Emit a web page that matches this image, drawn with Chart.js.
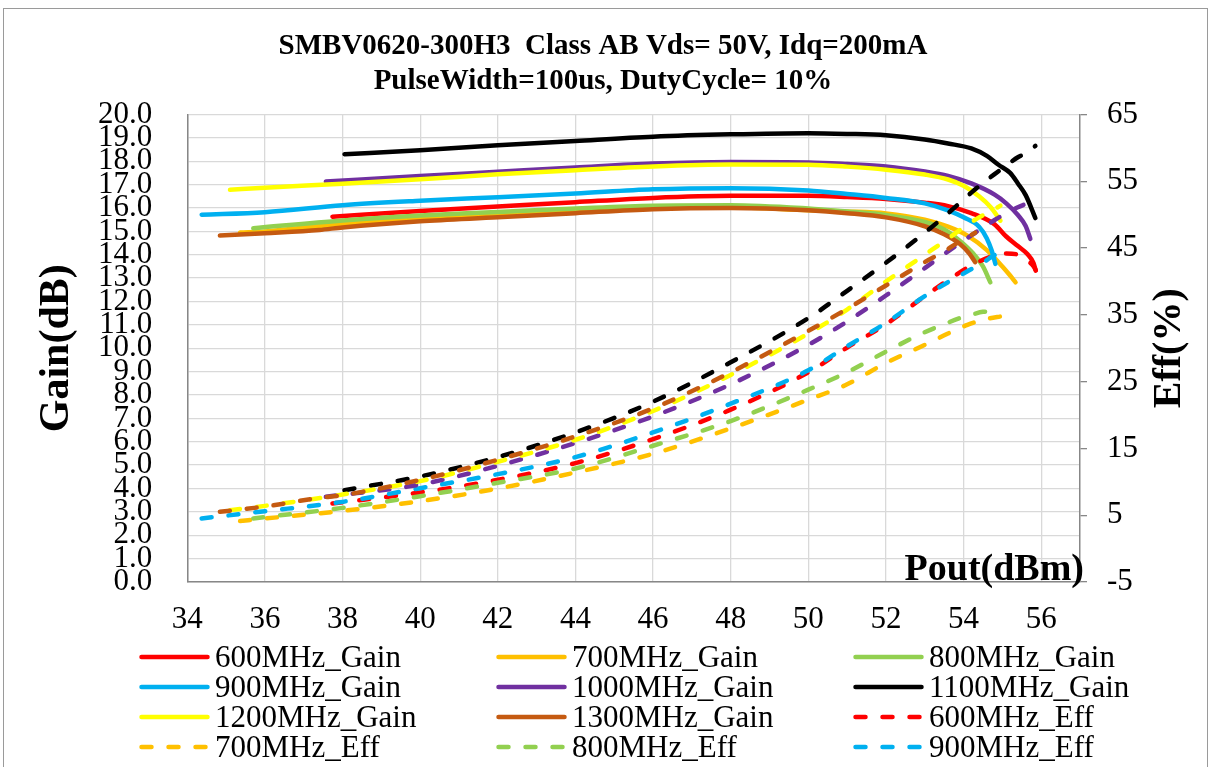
<!DOCTYPE html>
<html>
<head>
<meta charset="utf-8">
<title>SMBV0620-300H3</title>
<script src="https://cdn.jsdelivr.net/npm/chart.js@4.4.1/dist/chart.umd.min.js"></script>
<style>
  html, body { margin: 0; padding: 0; background: #fff; overflow: hidden; }
  body { width: 1210px; height: 767px; position: relative; font-family: "Liberation Serif", "Times New Roman", serif; }
  #frame { position: absolute; left: 3px; top: 8px; width: 1203px; height: 900px; border: 1px solid #9a9a9a; }
  #c1 { position: absolute; left: 0; top: 0; }
  #legend { position: absolute; left: 139px; top: 642px; height: 122px; overflow: hidden; display: grid; grid-template-columns: 357px 357px 357px; align-content: start; }
  .item { height: 30px; font-size: 31px; white-space: nowrap; display: flex; align-items: center; color: #000; }
  .item svg { margin-right: 5px; flex: none; }
</style>
</head>
<body>
<div id="frame"></div>
<canvas id="c1" width="1210" height="660"></canvas>
<div id="legend"></div>
<script>
  // Pout (dBm) per frequency, gain (dB) and drain efficiency (%) at the same points
  var pout600 = [37.74, 40, 42, 44, 46, 48, 50, 51, 52, 53, 53.6, 54.2, 54.8, 55.1, 55.4, 55.65, 55.8, 55.86]
  var gain600 = [15.63, 15.87, 16.06, 16.25, 16.43, 16.52, 16.52, 16.47, 16.39, 16.23, 16.08, 15.78, 15.3, 14.78, 14.37, 14.02, 13.65, 13.32]
  var eff600 = [6.76, 8.4, 10.3, 12.8, 16.4, 20.8, 26.4, 30.1, 33.6, 37.8, 40.2, 42.4, 43.9, 44.2, 44.0, 43.1, 42.3, 41.7]

  var pout700 = [35.36, 36, 38, 40, 42, 44, 46, 48, 50, 51, 52, 53, 53.6, 54.1, 54.6, 55.0, 55.2, 55.34]
  var gain700 = [14.95, 15.0, 15.33, 15.55, 15.72, 15.88, 16.02, 16.03, 15.9, 15.85, 15.77, 15.5, 15.2, 14.82, 14.2, 13.5, 13.11, 12.82]
  var eff700 = [4.12, 4.5, 5.65, 7.1, 9.0, 11.4, 14.2, 18.0, 22.3, 24.6, 27.8, 30.5, 32.2, 33.5, 34.4, 34.8, 35.0, 35.1]

  var pout800 = [35.7, 38, 40, 42, 44, 46, 48, 50, 51, 52, 53, 53.5, 53.9, 54.25, 54.5, 54.69]
  var gain800 = [15.13, 15.47, 15.68, 15.83, 15.98, 16.1, 16.12, 15.98, 15.85, 15.7, 15.4, 15.08, 14.6, 14.05, 13.5, 12.82]
  var eff800 = [4.52, 6.1, 7.85, 9.85, 12.0, 15.4, 19.1, 23.8, 26.4, 29.5, 32.4, 33.6, 34.5, 35.1, 35.45, 35.5]

  var pout900 = [34.37, 36, 38, 40, 42, 44, 46, 48, 50, 51, 52, 53, 53.6, 54, 54.4, 54.6, 54.72, 54.82]
  var gain900 = [15.71, 15.82, 16.12, 16.31, 16.46, 16.62, 16.8, 16.85, 16.75, 16.6, 16.43, 16.2, 15.9, 15.6, 15.2, 14.7, 14.2, 13.61]
  var eff900 = [4.52, 5.6, 7.0, 9.05, 11.15, 13.7, 17.4, 21.7, 26.7, 30.3, 33.8, 37.8, 39.9, 41.2, 42.5, 43.2, 43.7, 44.0]

  var pout1000 = [37.57, 40, 42, 44, 46, 48, 50, 51, 52, 53, 53.6, 54.2, 54.8, 55.1, 55.4, 55.6, 55.72]
  var gain1000 = [17.13, 17.37, 17.55, 17.73, 17.9, 17.97, 17.95, 17.88, 17.78, 17.56, 17.37, 17.05, 16.57, 16.2, 15.7, 15.23, 14.68]
  var eff1000 = [7.75, 9.6, 12.4, 15.8, 19.8, 24.6, 30.5, 34.0, 37.9, 42.0, 44.5, 46.9, 49.2, 50.2, 51.1, 51.6, 51.9]

  var pout1100 = [38.05, 40, 42, 44, 46, 48, 50, 51, 52, 53, 53.6, 54.2, 54.6, 54.9, 55.2, 55.4, 55.6, 55.85]
  var gain1100 = [18.30, 18.47, 18.68, 18.87, 19.05, 19.15, 19.20, 19.17, 19.11, 18.93, 18.76, 18.55, 18.23, 17.85, 17.5, 17.05, 16.55, 15.57]
  var eff1100 = [8.75, 10.8, 13.7, 17.4, 22.0, 27.9, 34.5, 38.6, 42.8, 47.3, 50.2, 53.3, 55.2, 56.5, 57.8, 58.6, 59.2, 60.3]

  var pout1200 = [35.1, 36, 38, 40, 42, 44, 46, 48, 50, 51, 52, 53, 53.6, 54, 54.4, 54.7, 54.95]
  var gain1200 = [16.78, 16.87, 17.04, 17.23, 17.44, 17.62, 17.78, 17.86, 17.85, 17.77, 17.64, 17.43, 17.22, 16.95, 16.5, 16.03, 15.46]
  var eff1200 = [5.76, 6.4, 8.1, 10.1, 13.0, 16.3, 20.6, 26.0, 32.2, 35.8, 40.0, 44.0, 46.4, 48.1, 49.6, 50.5, 51.35]

  var pout1300 = [34.84, 36, 37.4, 38, 40, 42, 44, 46, 48, 50, 51, 52, 53, 53.5, 53.9, 54.15, 54.3]
  var gain1300 = [14.82, 14.92, 15.06, 15.17, 15.43, 15.6, 15.78, 15.95, 16.0, 15.9, 15.78, 15.6, 15.22, 14.88, 14.47, 14.05, 13.68]
  var eff1300 = [5.51, 6.3, 7.6, 8.0, 10.3, 13.3, 16.8, 21.0, 26.4, 32.6, 35.9, 39.4, 42.9, 44.5, 46.0, 46.8, 47.3]

  // axis ticks
  var poutTicks = [34, 36, 38, 40, 42, 44, 46, 48, 50, 52, 54, 56]
  var gainTicks = [0, 1, 2, 3, 4, 5, 6, 7, 8, 9, 10, 11, 12, 13, 14, 15, 16, 17, 18, 19, 20]
  var effTicks = [-5, 5, 15, 25, 35, 45, 55, 65]

  var freqs = ['600MHz', '700MHz', '800MHz', '900MHz', '1000MHz', '1100MHz', '1200MHz', '1300MHz']
  var colors = ['#FF0000', '#FFC000', '#92D050', '#00B0F0', '#7030A0', '#000000', '#FFFF00', '#C55A11']
  var pouts = [pout600, pout700, pout800, pout900, pout1000, pout1100, pout1200, pout1300]
  var gains = [gain600, gain700, gain800, gain900, gain1000, gain1100, gain1200, gain1300]
  var effs = [eff600, eff700, eff800, eff900, eff1000, eff1100, eff1200, eff1300]

  var serif = '"Liberation Serif", "Times New Roman", serif'
  var dash = [10, 17]

  function points(xs, ys) {
    return xs.map(function(x, i) {
      return { x: x, y: ys[i] }
    })
  }

  function series(label, color, data, axis, dashed) {
    return {
      label: label,
      data: data,
      yAxisID: axis,
      borderColor: color,
      backgroundColor: color,
      borderWidth: 4.5,
      borderDash: dashed ? dash : [],
      borderCapStyle: 'round',
      borderJoinStyle: 'round',
      pointRadius: 0,
      cubicInterpolationMode: 'monotone',
      fill: false
    }
  }

  var datasets = []
  freqs.forEach(function(f, i) {
    datasets.push(series(f + '_Gain', colors[i], points(pouts[i], gains[i]), 'y', false))
  })
  freqs.forEach(function(f, i) {
    datasets.push(series(f + '_Eff', colors[i], points(pouts[i], effs[i]), 'y1', true))
  })
  // excel draws later series on top
  datasets.forEach(function(ds, i) {
    ds.order = datasets.length - i
  })

  function setTicks(values) {
    return function(scale) {
      scale.ticks = values.map(function(v) { return { value: v } })
    }
  }

  // axis titles that chart.js can't place the excel way
  var axisTitles = {
    id: 'axisTitles',
    afterDraw: function(chart) {
      var ctx = chart.ctx
      var area = chart.chartArea
      var y1 = chart.scales.y1
      ctx.save()
      ctx.fillStyle = '#000'
      ctx.font = 'bold 38px ' + serif
      ctx.textAlign = 'right'
      ctx.textBaseline = 'alphabetic'
      ctx.fillText('Pout(dBm)', area.right + 4, area.bottom - 2)
      ctx.translate(y1.right - 30, (area.top + area.bottom) / 2)
      ctx.rotate(-Math.PI / 2)
      ctx.font = 'bold 40px ' + serif
      ctx.textAlign = 'center'
      ctx.textBaseline = 'middle'
      ctx.fillText('Eff(%)', 0, 0)
      ctx.restore()
    }
  }

  var chart = new Chart(document.getElementById('c1'), {
    type: 'line',
    data: { datasets: datasets },
    plugins: [axisTitles],
    options: {
      responsive: false,
      animation: false,
      devicePixelRatio: 1,
      events: [],
      layout: { padding: { top: 10, left: 6, right: 10, bottom: 5 } },
      plugins: {
        legend: { display: false },
        tooltip: { enabled: false },
        title: {
          display: true,
          text: ['SMBV0620-300H3  Class AB Vds= 50V, Idq=200mA', 'PulseWidth=100us, DutyCycle= 10%'],
          color: '#000',
          font: { family: serif, size: 29, weight: 'bold', lineHeight: 1.2 },
          padding: { top: 19, bottom: 15.9 }
        }
      },
      scales: {
        x: {
          type: 'linear',
          min: 34,
          max: 57,
          afterBuildTicks: setTicks(poutTicks),
          afterFit: function(scale) { scale.height = 73 },
          grid: { color: '#d9d9d9', lineWidth: 1.3, drawTicks: false },
          border: { color: '#878787', width: 1.5 },
          ticks: {
            color: '#000',
            padding: 19,
            autoSkip: false,
            maxRotation: 0,
            font: { family: serif, size: 31 }
          }
        },
        y: {
          position: 'left',
          min: 0,
          max: 20,
          afterBuildTicks: setTicks(gainTicks),
          afterFit: function(scale) { scale.width = 181.3 },
          grid: { color: '#d9d9d9', lineWidth: 1.3, drawTicks: false },
          border: { color: '#878787', width: 1.5 },
          ticks: {
            color: '#000',
            padding: 35,
            autoSkip: false,
            font: { family: serif, size: 31 },
            callback: function(v) { return v.toFixed(1) }
          },
          title: {
            display: true,
            text: 'Gain(dB)',
            color: '#000',
            font: { family: serif, size: 42, weight: 'bold', lineHeight: 1 },
            padding: { top: 30, bottom: 0 }
          }
        },
        y1: {
          position: 'right',
          min: -5,
          max: 65,
          afterBuildTicks: setTicks(effTicks),
          afterFit: function(scale) { scale.width = 120 },
          grid: { drawOnChartArea: false, color: '#878787', lineWidth: 1.3, tickLength: 7 },
          border: { color: '#878787', width: 1.5 },
          ticks: {
            color: '#000',
            padding: 20,
            autoSkip: false,
            font: { family: serif, size: 31 }
          }
        }
      }
    }
  })

  // html legend in three columns, like the excel one
  function buildLegend(chart) {
    var box = document.getElementById('legend')
    chart.data.datasets.forEach(function(ds) {
      var item = document.createElement('div')
      item.className = 'item'
      var dashAttr = ds.borderDash.length ? ' stroke-dasharray="' + ds.borderDash.join(' ') + '"' : ''
      item.innerHTML = '<svg width="71" height="30"><line x1="2.5" y1="15" x2="68.5" y2="15" stroke="' +
        ds.borderColor + '" stroke-width="4.5" stroke-linecap="round"' + dashAttr + '/></svg>'
      var text = document.createElement('span')
      text.textContent = ds.label
      item.appendChild(text)
      box.appendChild(item)
    })
  }
  buildLegend(chart)
</script>
</body>
</html>
